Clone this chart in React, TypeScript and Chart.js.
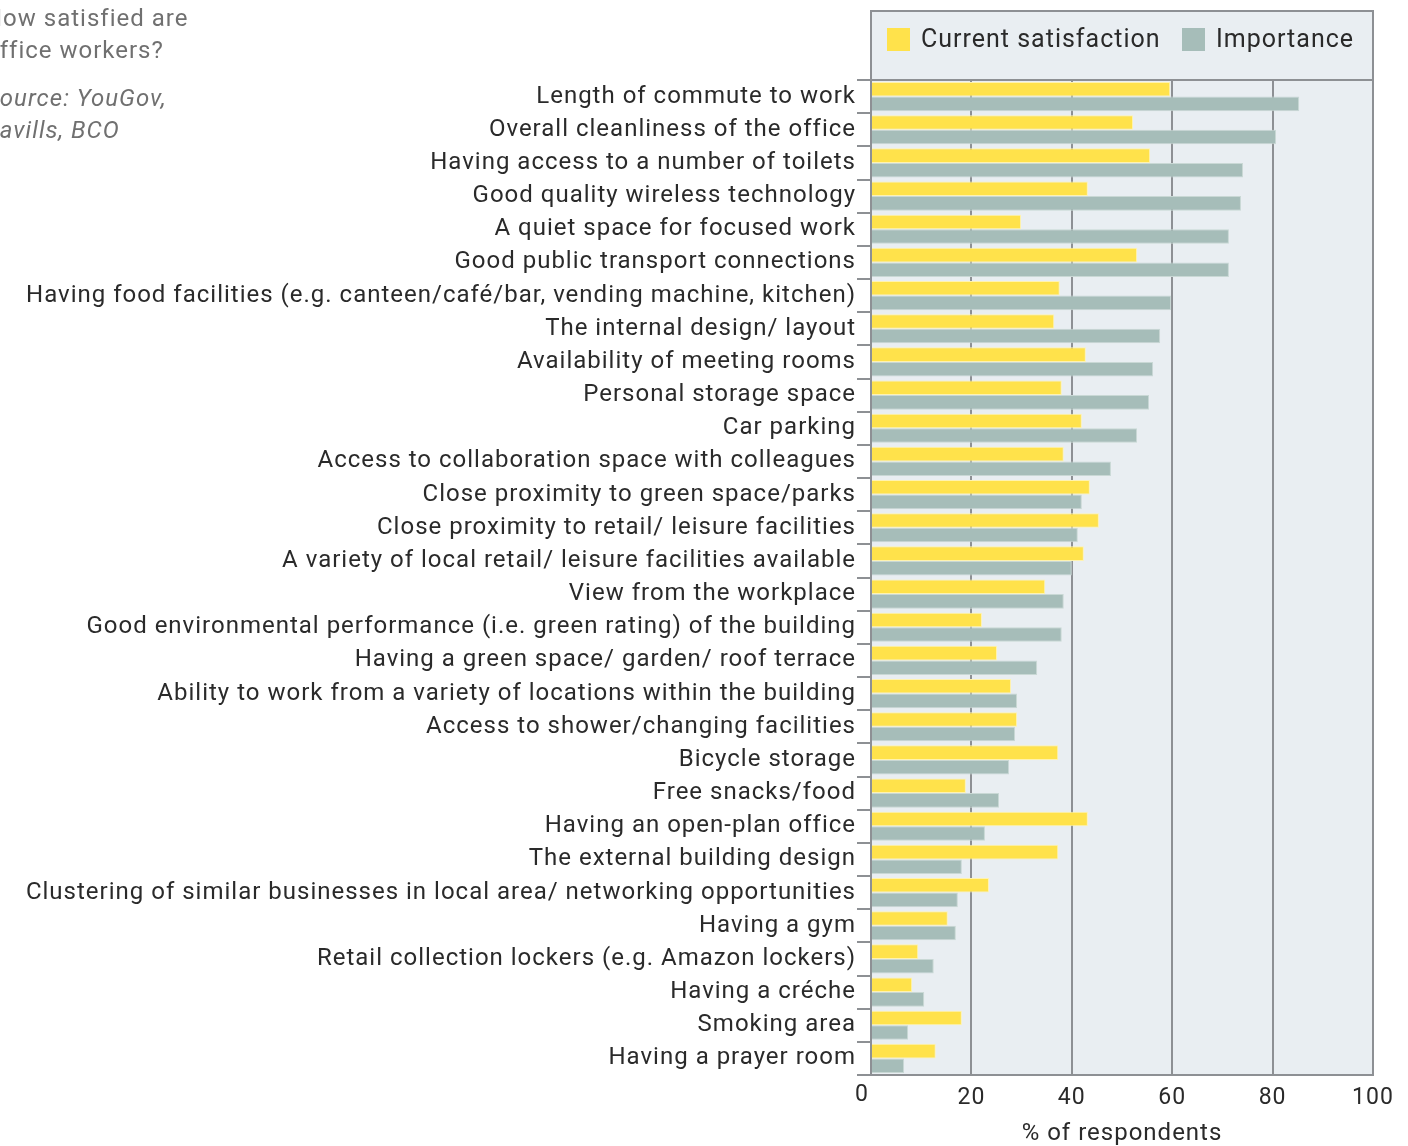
import React, { useEffect, useRef } from "react";
import { Chart, registerables } from "chart.js";
Chart.register(...registerables);

const categories = [
  "Length of commute to work",
  "Overall cleanliness of the office",
  "Having access to a number of toilets",
  "Good quality wireless technology",
  "A quiet space for focused work",
  "Good public transport connections",
  "Having food facilities (e.g. canteen/café/bar, vending machine, kitchen)",
  "The internal design/ layout",
  "Availability of meeting rooms",
  "Personal storage space",
  "Car parking",
  "Access to collaboration space with colleagues",
  "Close proximity to green space/parks",
  "Close proximity to retail/ leisure facilities",
  "A variety of local retail/ leisure facilities available",
  "View from the workplace",
  "Good environmental performance (i.e. green rating) of the building",
  "Having a green space/ garden/ roof terrace",
  "Ability to work from a variety of locations within the building",
  "Access to shower/changing facilities",
  "Bicycle storage",
  "Free snacks/food",
  "Having an open-plan office",
  "The external building design",
  "Clustering of similar businesses in local area/ networking opportunities",
  "Having a gym",
  "Retail collection lockers (e.g. Amazon lockers)",
  "Having a créche",
  "Smoking area",
  "Having a prayer room",
];

const satisfaction = [
  59.6, 52.2, 55.6, 43.2, 29.9, 53.0, 37.6, 36.5, 42.8, 38.0,
  42.0, 38.4, 43.6, 45.4, 42.4, 34.7, 22.1, 25.1, 27.9, 29.1,
  37.3, 18.9, 43.2, 37.3, 23.5, 15.3, 9.4, 8.2, 18.1, 12.9,
];

const importance = [
  85.3, 80.7, 74.1, 73.7, 71.3, 71.3, 59.8, 57.6, 56.2, 55.4,
  53.0, 47.8, 42.0, 41.2, 40.0, 38.4, 38.0, 33.1, 29.1, 28.7,
  27.5, 25.5, 22.7, 18.1, 17.3, 16.9, 12.5, 10.6, 7.4, 6.6,
];

const seriesNames = ["Current satisfaction", "Importance"];
const seriesColors = ["#ffe24b", "#a6bdb9"];
const xTickValues = [0, 20, 40, 60, 80, 100];
const xTitle = "% of respondents";
const sideTitle = ["How satisfied are", "office workers?"];
const sideSource = ["Source: YouGov,", "Savills, BCO"];

const FONT = "Roboto, 'Noto Sans', sans-serif";
const GRID = "#8d9094";
const BG = "#e9eef2";
const TEXT = "#2a2a2a";

const boxPlugin = {
  id: "boxPlugin",
  beforeDraw(chart: any) {
    const { ctx, chartArea } = chart;
    (ctx as any).letterSpacing = "1px";
    ctx.save();
    ctx.fillStyle = BG;
    ctx.fillRect(chartArea.left, 11, chartArea.right - chartArea.left, chartArea.bottom - 11);
    ctx.restore();
  },
  afterDraw(chart: any) {
    const { ctx, chartArea } = chart;
    const { left, right, top, bottom } = chartArea;
    ctx.save();
    ctx.strokeStyle = GRID;
    ctx.lineWidth = 2;
    ctx.strokeRect(left, 11, right - left, bottom - 11);
    ctx.beginPath();
    ctx.moveTo(left, top);
    ctx.lineTo(right, top);
    ctx.stroke();
    // zero tick label, set slightly left of the axis as in the original
    const xScale = chart.scales.x;
    ctx.font = `400 23px ${FONT}`;
    (ctx as any).letterSpacing = "1px";
    ctx.fillStyle = TEXT;
    ctx.textAlign = "center";
    ctx.textBaseline = "top";
    ctx.fillText(String(xTickValues[0]), xScale.getPixelForValue(xTickValues[0]) - 9, bottom + 9);
    // legend
    const items = [
      { x: 887, label: seriesNames[0], color: seriesColors[0] },
      { x: 1182, label: seriesNames[1], color: seriesColors[1] },
    ];
    ctx.font = `400 25px ${FONT}`;
    ctx.textBaseline = "middle";
    ctx.textAlign = "left";
    for (const it of items) {
      ctx.fillStyle = it.color;
      ctx.fillRect(it.x, 28, 23, 23);
      ctx.fillStyle = TEXT;
      ctx.fillText(it.label, it.x + 34, 41);
    }
    ctx.restore();
  },
};

export default function App() {
  const ref = useRef<HTMLCanvasElement | null>(null);

  useEffect(() => {
    const prevMargin = document.body.style.margin;
    document.body.style.margin = "0";
    const canvas = ref.current!;
    const chart = new Chart(canvas, {
      type: "bar",
      data: {
        labels: categories,
        datasets: [
          {
            label: seriesNames[0],
            data: satisfaction,
            backgroundColor: seriesColors[0],
            borderColor: "#fff3b0",
            borderWidth: 1,
            categoryPercentage: 0.88,
            barPercentage: 1,
          },
          {
            label: seriesNames[1],
            data: importance,
            backgroundColor: seriesColors[1],
            borderColor: "#c9d8d5",
            borderWidth: 1,
            categoryPercentage: 0.88,
            barPercentage: 1,
          },
        ],
      },
      options: {
        indexAxis: "y",
        responsive: false,
        animation: false,
        layout: { padding: { top: 80, right: 35, bottom: 0, left: 0 } },
        plugins: {
          legend: { display: false },
          tooltip: { enabled: false },
        },
        scales: {
          x: {
            min: 0,
            max: 100,
            afterBuildTicks: (scale: any) => {
              scale.ticks = xTickValues.map((v) => ({ value: v }));
            },
            afterFit: (scale: any) => {
              scale.height = 71;
            },
            grid: {
              color: GRID,
              lineWidth: 2,
              drawTicks: false,
            },
            border: { display: false },
            ticks: {
              color: TEXT,
              font: { family: FONT, size: 23 },
              padding: 9,
              maxRotation: 0,
              callback: (v: any) => (Number(v) === xTickValues[0] ? "" : String(v)),
            },
            title: {
              display: true,
              text: xTitle,
              color: TEXT,
              font: { family: FONT, size: 24 },
              padding: { top: 0, bottom: -2 },
            },
          },
          y: {
            afterFit: (scale: any) => {
              scale.width = 871;
            },
            grid: {
              offset: true,
              drawOnChartArea: false,
              drawTicks: true,
              tickLength: 14,
              color: GRID,
              lineWidth: 2,
            },
            border: { display: false },
            ticks: {
              color: TEXT,
              font: { family: FONT, size: 24 },
              padding: 1,
              autoSkip: false,
            },
          },
        },
      },
      plugins: [boxPlugin],
    });
    return () => {
      chart.destroy();
      document.body.style.margin = prevMargin;
    };
  }, []);

  const textStyle: React.CSSProperties = {
    fontFamily: FONT,
    fontWeight: 400,
    fontSize: 24,
    letterSpacing: "1px",
    color: "#707070",
    lineHeight: "32px",
    margin: 0,
    whiteSpace: "nowrap",
  };

  return (
    <div style={{ position: "absolute", left: 0, top: 0, width: 1408, height: 1146, overflow: "hidden", background: "#fff" }}>
      <canvas ref={ref} width={1408} height={1146} style={{ position: "absolute", left: 0, top: 0 }} />
      <div style={{ position: "absolute", left: -15, top: 2 }}>
        {sideTitle.map((t) => (
          <p key={t} style={textStyle}>{t}</p>
        ))}
        <div style={{ height: 16 }} />
        {sideSource.map((t) => (
          <p key={t} style={{ ...textStyle, fontStyle: "italic" }}>{t}</p>
        ))}
      </div>
    </div>
  );
}
